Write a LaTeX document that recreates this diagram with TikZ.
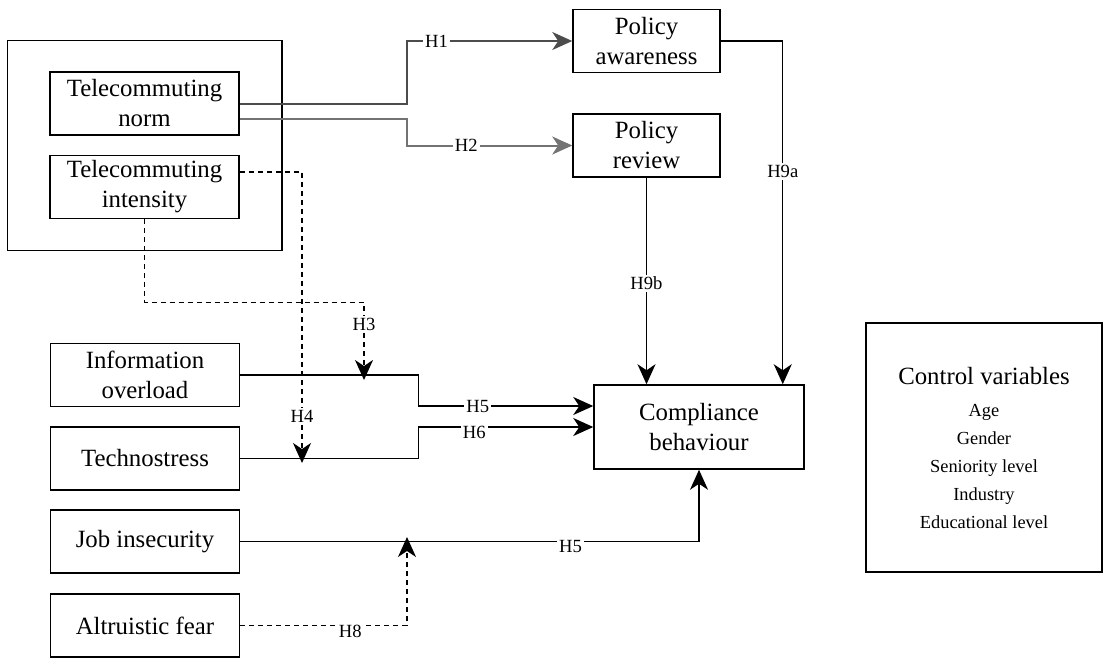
\documentclass[tikz,border=0pt]{standalone}
\usepackage{fontspec}
\setmainfont{Liberation Serif}
\usetikzlibrary{arrows.meta,calc,fit}

\newcommand{\boxfs}{\fontsize{12.4}{15}\selectfont}
\newcommand{\labfs}{\fontsize{9.3}{11}\selectfont}
\newcommand{\itemfs}{\fontsize{9.2}{14}\selectfont}

\tikzset{
  box/.style={draw, line width=0.75pt, minimum width=94.5pt, minimum height=31.5pt,
    align=center, font=\boxfs, inner sep=0pt},
  lbl/.style={font=\labfs, fill=white, inner sep=1pt},
  tip/.style={-{Stealth[length=10pt, width=9pt, inset=3pt]}},
  solidpath/.style={tip, line width=0.7pt},
  greypath/.style={tip, line width=1pt, draw=black!55},
  dashpath/.style={tip, line width=0.7pt, dash pattern=on 2.5pt off 2pt}
}

\begin{document}
\begin{tikzpicture}[x=0.5pt, y=-0.5pt]
    \useasboundingbox (0,0) rectangle (1106,660);

    % Telecommuting group
    \node[box] (norm) at (144.5,103.5) {Telecommuting\\norm};
    \node[box] (intens) at (144.5,187) {Telecommuting\\intensity};
    \node[draw, line width=0.75pt, inner xsep=21pt, inner ysep=15.5pt, fit=(norm)(intens)] (group) {};

    % Policy boxes
    \node[box, minimum width=73.5pt] (aware) at (646.5,41) {Policy\\awareness};
    \node[box, minimum width=73.5pt] (review) at (646.5,145.5) {Policy\\review};

    % Left column
    \node[box] (info) at (145,375) {Information\\overload};
    \node[box] (tech) at (145,458.5) {Technostress};
    \node[box] (job) at (145,541.5) {Job insecurity};
    \node[box] (alt) at (145,625.5) {Altruistic fear};

    % Outcome and controls
    \node[box, minimum width=105pt, minimum height=42pt] (comp) at (699,427) {Compliance\\behaviour};
    \node[draw, line width=0.75pt, minimum width=118pt, minimum height=124.5pt,
      align=center, font=\itemfs] (ctrl) at (984,447.5)
      {{\boxfs Control variables}\\[2pt] Age\\ Gender\\ Seniority level\\ Industry\\ Educational level};

    % Moderation points on the paths
    \coordinate (m3) at (364,380);
    \coordinate (m4) at (302,463);
    \coordinate (m8) at (407,537);

    % Paths from telecommuting norm
    \draw[greypath, draw=black!70] (norm.east) -- ++(167,0) |- node[lbl, pos=0.59] {H1} (aware.west);
    \draw[greypath] ($(norm.east)+(0,15.5)$) -- ++(167,0) |- node[lbl, pos=0.68] {H2} (review.west);

    % Policy to compliance
    \draw[solidpath] (aware.east) -| node[lbl, pos=0.69] {H9a} ($(comp.north east)+(-22,0)$);
    \draw[solidpath] (review.south) -- node[lbl, pos=0.51] {H9b} (review.south |- comp.north);

    % Direct effects
    \draw[solidpath] (info.east) -- ++(178,0) |- node[lbl, pos=0.67] {H5} ($(comp.west)+(0,-21)$);
    \draw[solidpath] (tech.east) -- ++(178,0) |- node[lbl, pos=0.66, yshift=-2.5pt] {H6} (comp.west);
    \draw[solidpath] (job.east) -| node[lbl, pos=0.36, yshift=-2.5pt] {H5} (comp.south);

    % Moderating effects
    \draw[dashpath] (intens.south) -- ++(0,83) -| node[lbl, pos=0.64] {H3} (m3);
    \draw[dashpath] ($(intens.east)+(0,-15)$) -| node[lbl, pos=0.92] {H4} (m4);
    \draw[dashpath] (alt.east) -| node[lbl, pos=0.33, yshift=-3pt] {H8} (m8);
\end{tikzpicture}
\end{document}
